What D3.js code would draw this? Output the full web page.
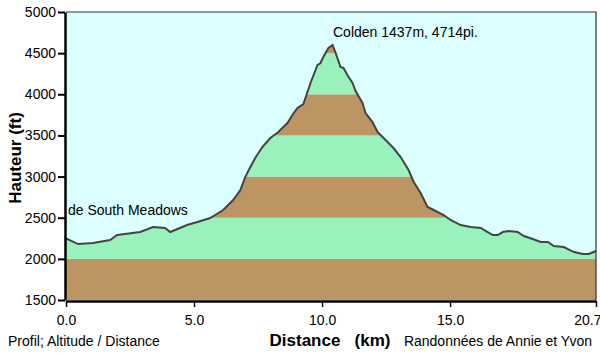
<!DOCTYPE html>
<html>
<head>
<meta charset="utf-8">
<script src="https://cdn.jsdelivr.net/npm/d3@7"></script>
<style>
  body { margin: 0; background: #fff; }
  svg { display: block; font-family: "Liberation Sans", Arial, sans-serif; }
</style>
</head>
<body>
<div id="chart"></div>
<script>
// profile: distance (km) and altitude (ft)
const distances = [0, 0.47, 1.06, 1.72, 2.0, 2.9, 3.4, 3.87, 4.07, 4.73, 5.13, 5.63, 6.14, 6.53, 6.81, 7.0, 7.2, 7.39, 7.67, 7.98, 8.29, 8.65, 8.84, 9.04, 9.27, 9.55, 9.82, 9.94, 10.05, 10.25, 10.41, 10.52, 10.72, 10.84, 10.99, 11.19, 11.31, 11.58, 11.7, 11.97, 12.17, 12.48, 12.79, 13.07, 13.38, 13.58, 13.85, 14.12, 14.36, 14.75, 15.02, 15.41, 15.81, 16.2, 16.47, 16.67, 16.86, 17.06, 17.29, 17.64, 17.88, 18.23, 18.54, 18.82, 19.05, 19.44, 19.84, 20.19, 20.42, 20.7]
const altitudes = [2250, 2180, 2193, 2229, 2290, 2326, 2387, 2375, 2326, 2411, 2448, 2496, 2594, 2715, 2837, 2994, 3116, 3225, 3359, 3468, 3541, 3651, 3748, 3833, 3881, 4137, 4355, 4380, 4453, 4562, 4598, 4513, 4331, 4319, 4234, 4137, 4040, 3894, 3772, 3663, 3541, 3444, 3347, 3237, 3080, 2934, 2800, 2630, 2594, 2533, 2472, 2411, 2387, 2375, 2326, 2290, 2290, 2326, 2338, 2326, 2278, 2241, 2205, 2205, 2156, 2144, 2083, 2059, 2059, 2095]
const yTicks = [1500, 2000, 2500, 3000, 3500, 4000, 4500, 5000]
const xTicks = [0, 5, 10, 15, 20.7]
const bandBreaks = [1500, 2000, 2500, 3000, 3500, 4000, 4500, 5000]

const width = 600,
    height = 354
const margin = ({ top: 12, right: 4, bottom: 54, left: 66 })

const x = d3.scaleLinear()
    .domain([0, 20.7])
    .range([margin.left, width - margin.right])
const y = d3.scaleLinear()
    .domain([1500, 5000])
    .range([height - margin.bottom, margin.top])

const profile = distances.map((d, i) => ({ d: d, alt: altitudes[i] }))

const svg = d3.select("#chart").append("svg")
    .attr("width", width)
    .attr("height", height)

// sky
svg.append("rect")
    .attr("x", x(0)).attr("y", y(5000))
    .attr("width", x(20.7) - x(0)).attr("height", y(1500) - y(5000))
    .attr("fill", "#dcffff")

const area = d3.area()
    .x(d => x(d.d))
    .y0(y(1500))
    .y1(d => y(d.alt))

svg.append("clipPath").attr("id", "under")
    .append("path").attr("d", area(profile))

// alternating bands under the profile
svg.append("g").attr("clip-path", "url(#under)")
    .selectAll("rect")
    .data(d3.pairs(bandBreaks))
    .join("rect")
    .attr("x", x(0))
    .attr("width", x(20.7) - x(0))
    .attr("y", d => y(d[1]))
    .attr("height", d => y(d[0]) - y(d[1]))
    .attr("fill", (d, i) => i % 2 == 0 ? "#bd9563" : "#99f2bb")

const line = d3.line()
    .x(d => x(d.d))
    .y(d => y(d.alt))

svg.append("path")
    .attr("d", line(profile))
    .attr("fill", "none")
    .attr("stroke", "#444")
    .attr("stroke-width", 2)

// frame top/right
svg.append("path")
    .attr("d", `M${x(0)},${y(5000)}H${x(20.7)}V${y(1500)}`)
    .attr("fill", "none")
    .attr("stroke", "#333")
    .attr("stroke-width", 1.2)

// axes
const yAxis = svg.append("g")
    .attr("transform", `translate(${x(0) - 1},0)`)
    .call(d3.axisLeft(y).tickValues(yTicks).tickFormat(d3.format("d")).tickSize(7).tickPadding(2).tickSizeOuter(0))
yAxis.select(".domain").attr("stroke", "#000").attr("stroke-width", 2.5)
yAxis.selectAll(".tick line").attr("stroke-width", 2)
yAxis.selectAll("text").attr("font-size", 14).attr("fill", "#000").attr("font-family", "Liberation Sans, Arial")

const xAxis = svg.append("g")
    .attr("transform", `translate(0,${y(1500) + 1})`)
    .call(d3.axisBottom(x).tickValues(xTicks).tickFormat(d3.format(".1f")).tickSize(6).tickPadding(8).tickSizeOuter(0))
xAxis.select(".domain").attr("stroke", "#000").attr("stroke-width", 2.5)
xAxis.selectAll(".tick line").attr("stroke-width", 1.5)
xAxis.selectAll("text").attr("font-size", 14).attr("fill", "#000").attr("font-family", "Liberation Sans, Arial")
xAxis.selectAll(".tick text").filter(d => d == 20.7).attr("text-anchor", "end").attr("dx", 5)

// labels
svg.append("text")
    .attr("transform", `translate(21,${(y(1500) + y(5000)) / 2 + 2}) rotate(-90)`)
    .attr("text-anchor", "middle")
    .attr("font-size", 17).attr("font-weight", "bold")
    .text("Hauteur (ft)")

svg.append("text")
    .attr("x", 330).attr("y", 346)
    .attr("text-anchor", "middle")
    .attr("font-size", 17).attr("font-weight", "bold")
    .attr("xml:space", "preserve")
    .text("Distance   (km)")

svg.append("text")
    .attr("x", 8).attr("y", 346)
    .attr("font-size", 14)
    .text("Profil; Altitude / Distance")

svg.append("text")
    .attr("x", 592).attr("y", 346)
    .attr("text-anchor", "end")
    .attr("font-size", 14)
    .text("Randonnées de Annie et Yvon")

svg.append("text")
    .attr("x", 333).attr("y", 37)
    .attr("font-size", 14)
    .text("Colden 1437m, 4714pi.")

svg.append("text")
    .attr("x", 68).attr("y", 215)
    .attr("font-size", 14)
    .text("de South Meadows")
</script>
</body>
</html>
